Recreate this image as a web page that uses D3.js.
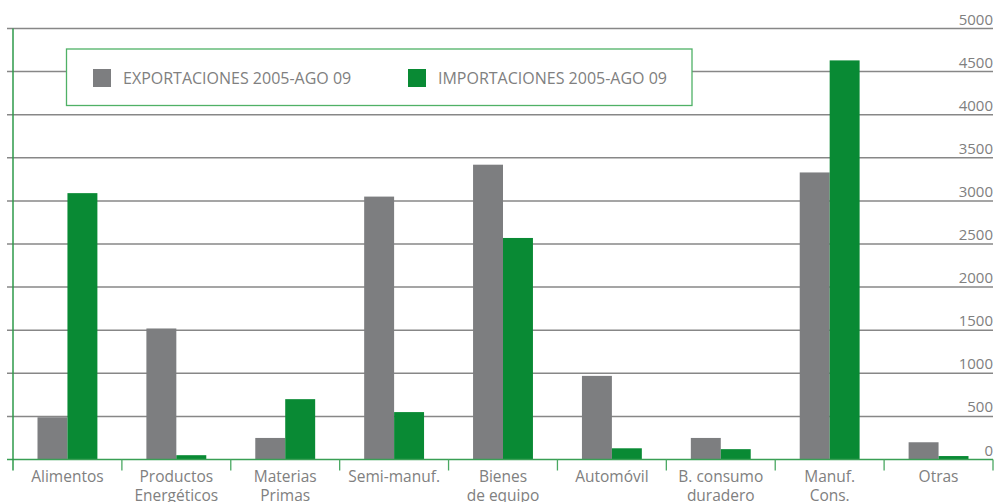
<!DOCTYPE html>
<html>
<head>
    <meta charset="utf-8">
    <style>
        body { margin: 0; background: #fff; }
        svg { display: block; font-family: 'Open Sans', 'DejaVu Sans', sans-serif; }
    </style>
</head>
<body>
    <svg width="996" height="502"></svg>

<script src="https://d3js.org/d3.v7.min.js"></script>
<script>
    // categories (two lines each where the label wraps)
    const categories = [
        ["Alimentos"],
        ["Productos", "Energéticos"],
        ["Materias", "Primas"],
        ["Semi-manuf."],
        ["Bienes", "de equipo"],
        ["Automóvil"],
        ["B. consumo", "duradero"],
        ["Manuf.", "Cons."],
        ["Otras"]
    ];
    const exportaciones = [490, 1520, 250, 3050, 3420, 970, 250, 3330, 200];
    const importaciones = [3090, 50, 700, 550, 2570, 130, 120, 4630, 40];
    const seriesNames = ["EXPORTACIONES 2005-AGO 09", "IMPORTACIONES 2005-AGO 09"];
    const yTicks = [0, 500, 1000, 1500, 2000, 2500, 3000, 3500, 4000, 4500, 5000];

    const grey = "#7d7e80";
    const green = "#098a34";
    const textGrey = "#808080";

    const svg = d3.select("svg");
    const mLeft = 13, mRight = 993, mTop = 28.5, mBottom = 459.5;

    const keys = categories.map((c, i) => i);
    const x = d3.scaleBand().domain(keys).range([mLeft, mRight]).paddingInner(0).paddingOuter(0);
    const xSub = d3.scaleBand().domain([0, 1]).range([x.bandwidth() * 0.225, x.bandwidth() * 0.775]);
    const y = d3.scaleLinear().domain([0, 5000]).range([mBottom, mTop]);

    // gridlines
    svg.append("g")
        .selectAll("line")
        .data(yTicks.filter(d => d > 0))
        .join("line")
        .attr("x1", 7).attr("x2", mRight)
        .attr("y1", d => y(d)).attr("y2", d => y(d))
        .style("stroke", "#878787")
        .style("stroke-width", 1.5);

    // tick labels on the right, sitting above the lines
    svg.append("g")
        .selectAll("text")
        .data(yTicks)
        .join("text")
        .attr("x", mRight)
        .attr("y", d => y(d) - 4)
        .attr("text-anchor", "end")
        .style("font-size", "15px")
        .style("fill", textGrey)
        .text(d => d);

    // bars
    const groups = svg.append("g")
        .selectAll("g")
        .data(keys)
        .join("g")
        .attr("transform", i => `translate(${x(i)},0)`);

    groups.append("rect")
        .attr("x", xSub(0))
        .attr("width", xSub.bandwidth())
        .attr("y", i => y(exportaciones[i]))
        .attr("height", i => mBottom - y(exportaciones[i]))
        .style("fill", grey);

    groups.append("rect")
        .attr("x", xSub(1))
        .attr("width", xSub.bandwidth())
        .attr("y", i => y(importaciones[i]))
        .attr("height", i => mBottom - y(importaciones[i]))
        .style("fill", green);

    // axes
    svg.append("line")
        .attr("x1", 7).attr("x2", mRight)
        .attr("y1", mBottom).attr("y2", mBottom)
        .style("stroke", "#3a9f55").style("stroke-width", 1.5);

    svg.append("line")
        .attr("x1", mLeft).attr("x2", mLeft)
        .attr("y1", mTop).attr("y2", mBottom + 11)
        .style("stroke", "#2e9a4a").style("stroke-width", 1.5);

    svg.append("g")
        .selectAll("line")
        .data(keys.map(i => x(i) + x.bandwidth()))
        .join("line")
        .attr("x1", d => d).attr("x2", d => d)
        .attr("y1", mBottom).attr("y2", mBottom + 11)
        .style("stroke", "#4aa862").style("stroke-width", 1.3);

    // category labels
    const labels = svg.append("g")
        .selectAll("text")
        .data(keys)
        .join("text")
        .attr("text-anchor", "middle")
        .style("font-size", "15.5px")
        .style("fill", textGrey);

    labels.selectAll("tspan")
        .data(i => categories[i].map(t => ({ t, i })))
        .join("tspan")
        .attr("x", d => x(d.i) + x.bandwidth() / 2)
        .attr("y", (d, j) => 482 + j * 18.5)
        .text(d => d.t);

    // legend
    const legend = svg.append("g");
    legend.append("rect")
        .attr("x", 66.5).attr("y", 49)
        .attr("width", 625.5).attr("height", 56.5)
        .style("fill", "white")
        .style("stroke", "#4fb166")
        .style("stroke-width", 1.3);

    const legendX = [93, 408];
    const legendColors = [grey, green];
    seriesNames.forEach((name, i) => {
        legend.append("rect")
            .attr("x", legendX[i]).attr("y", 69)
            .attr("width", 18).attr("height", 18)
            .style("fill", legendColors[i]);
        legend.append("text")
            .attr("x", legendX[i] + 30).attr("y", 83.5)
            .style("font-size", "16px")
            .style("fill", textGrey)
            .text(name);
    });
</script>
</body>
</html>
